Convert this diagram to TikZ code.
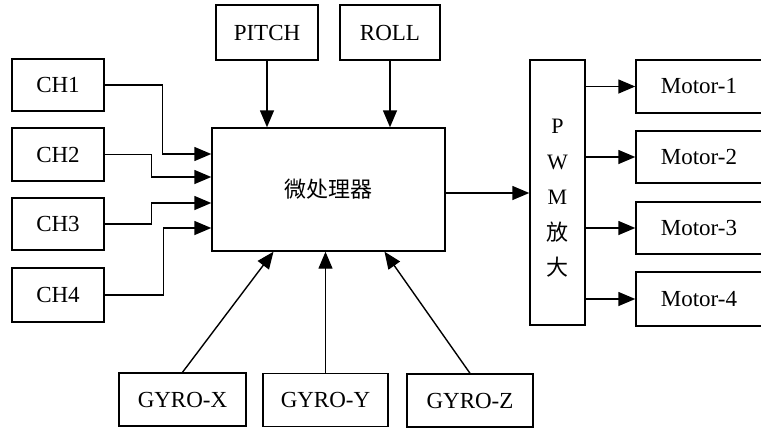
\documentclass[tikz,border=0pt]{standalone}
\usepackage{fontspec}
\setmainfont{Liberation Serif}
\newfontfamily\cjk{Noto Sans CJK SC}
\usetikzlibrary{positioning, calc, arrows.meta}

\begin{document}
\begin{tikzpicture}[
    x=1pt, y=-1pt,
    blk/.style={draw=black, line width=1.4pt, fill=white, inner sep=0pt,
                font=\fontsize{23}{28}\selectfont},
    arr/.style={-{Triangle[length=17pt, width=14pt]}, line width=1.4pt},
]
\useasboundingbox (0,0) rectangle (761,431);

% --- Central processor and PWM stage ---
\node[blk, minimum width=233pt, minimum height=123pt] (cpu) at (328.5,189.5)
    {\cjk\fontsize{22}{26}\selectfont 微处理器};
\node[blk, minimum width=55pt, minimum height=265pt,
      font=\fontsize{22}{35.5}\selectfont] (pwm) at (557.5,192.5)
    {\raisebox{-5pt}[\height][\depth]{\begin{tabular}{@{}c@{}}P\\W\\M\\{\cjk 放}\\{\cjk 大}\end{tabular}}};

% --- Receiver channels (left) ---
\node[blk, minimum width=92pt, minimum height=52pt] (ch1) at (58,85) {CH1};
\node[blk, minimum width=92pt, minimum height=53pt] (ch2) at (58,154.5) {CH2};
\node[blk, minimum width=92pt, minimum height=52pt] (ch3) at (58,224) {CH3};
\node[blk, minimum width=92pt, minimum height=54pt] (ch4) at (58,295) {CH4};

% --- Attitude inputs (top) ---
\node[blk, minimum width=102pt, minimum height=55pt] (pitch) at (267,32.5) {PITCH};
\node[blk, minimum width=100pt, minimum height=55pt] (roll) at (390,32.5) {ROLL};

% --- Gyros (bottom) ---
\node[blk, minimum width=127pt, minimum height=53pt] (gyrox) at (182.5,399.5) {GYRO-X};
\node[blk, minimum width=125pt, minimum height=53pt] (gyroy) at (325.5,400) {GYRO-Y};
\node[blk, minimum width=126pt, minimum height=53pt] (gyroz) at (470,400.5) {GYRO-Z};

% --- Motors (right, run off the edge) ---
\node[blk, minimum width=126pt, minimum height=53pt] (m1) at (699,86.5) {Motor-1};
\node[blk, minimum width=126pt, minimum height=52pt] (m2) at (699,157) {Motor-2};
\node[blk, minimum width=126pt, minimum height=52pt] (m3) at (699,228) {Motor-3};
\node[blk, minimum width=126pt, minimum height=54pt] (m4) at (699,299) {Motor-4};

% --- Channel wiring, jogged into the left side ---
\draw[arr] (ch1.east) -- ++(58,0) |- ([yshift=35.5pt]cpu.west);
\draw[arr] (ch2.east) -- ++(47,0) |- ([yshift=12.5pt]cpu.west);
\draw[arr] (ch3.east) -- ++(47,0) |- ([yshift=-13.5pt]cpu.west);
\draw[arr] (ch4.east) -- ++(59,0) |- ([yshift=-38.5pt]cpu.west);

% --- Top inputs ---
\draw[arr] (pitch.south) -- (pitch.south |- cpu.north);
\draw[arr] (roll.south) -- (roll.south |- cpu.north);

% --- Gyro inputs (fanned) ---
\draw[arr] (gyrox.north) -- ([xshift=-55pt]cpu.south);
\draw[arr] (gyroy.north) -- (gyroy.north |- cpu.south);
\draw[arr] (gyroz.north) -- ([xshift=56pt]cpu.south);

% --- Outputs ---
\draw[arr] ([yshift=-3.5pt]cpu.east) -- ([yshift=-3.5pt]cpu.east -| pwm.west);
\foreach \m in {m1, m2, m3, m4} {
    \draw[arr] (pwm.east |- \m.west) -- (\m.west);
}

\end{tikzpicture}
\end{document}
